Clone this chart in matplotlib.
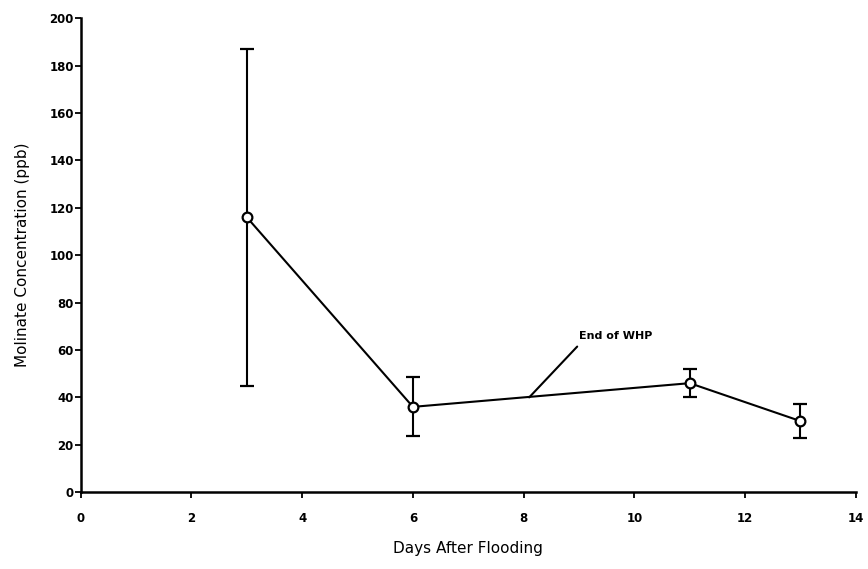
import numpy as np
import matplotlib.pyplot as plt

# molinate in paddy water after flooding (mean +/- sd)
days = [3, 6, 11, 13]
molinate = [116, 36, 46, 30]
molinate_sd = [71, 12.5, 6, 7]

xticks = np.arange(0, 15, 2)
yticks = np.arange(0, 201, 20)

fig = plt.figure(figsize=(8.68, 5.69), dpi=100)
ax = fig.add_axes([0.093, 0.135, 0.893, 0.833])

ax.errorbar(days, molinate, yerr=molinate_sd, color='black', lw=1.5,
            elinewidth=1.5, capsize=5, capthick=1.8,
            marker='o', markersize=7, markerfacecolor='white',
            markeredgecolor='black', markeredgewidth=1.6)

# marker for end of the water holding period
ax.annotate('End of WHP', xy=(8.1, 40), xytext=(9.0, 66),
            fontsize=8, fontweight='bold', va='center', ha='left',
            arrowprops=dict(arrowstyle='-', color='black', lw=1.5,
                            relpos=(0.05, 0.0), shrinkA=3, shrinkB=0))

ax.set_xlim(0, 14)
ax.set_ylim(0, 200)
ax.set_xticks(xticks)
ax.set_yticks(yticks)
ax.tick_params(axis='both', direction='out', length=4, width=1.3,
               labelsize=8.5)
for lab in ax.get_xticklabels() + ax.get_yticklabels():
    lab.set_fontweight('bold')
ax.tick_params(axis='x', pad=10)
ax.tick_params(axis='y', pad=1)

for side in ['top', 'right']:
    ax.spines[side].set_visible(False)
for side in ['left', 'bottom']:
    ax.spines[side].set_linewidth(1.8)

ax.set_xlabel('Days After Flooding', fontsize=11, labelpad=12)
ax.set_ylabel('Molinate Concentration (ppb)', fontsize=11, labelpad=14)

fig.savefig('out.png', dpi=100)
